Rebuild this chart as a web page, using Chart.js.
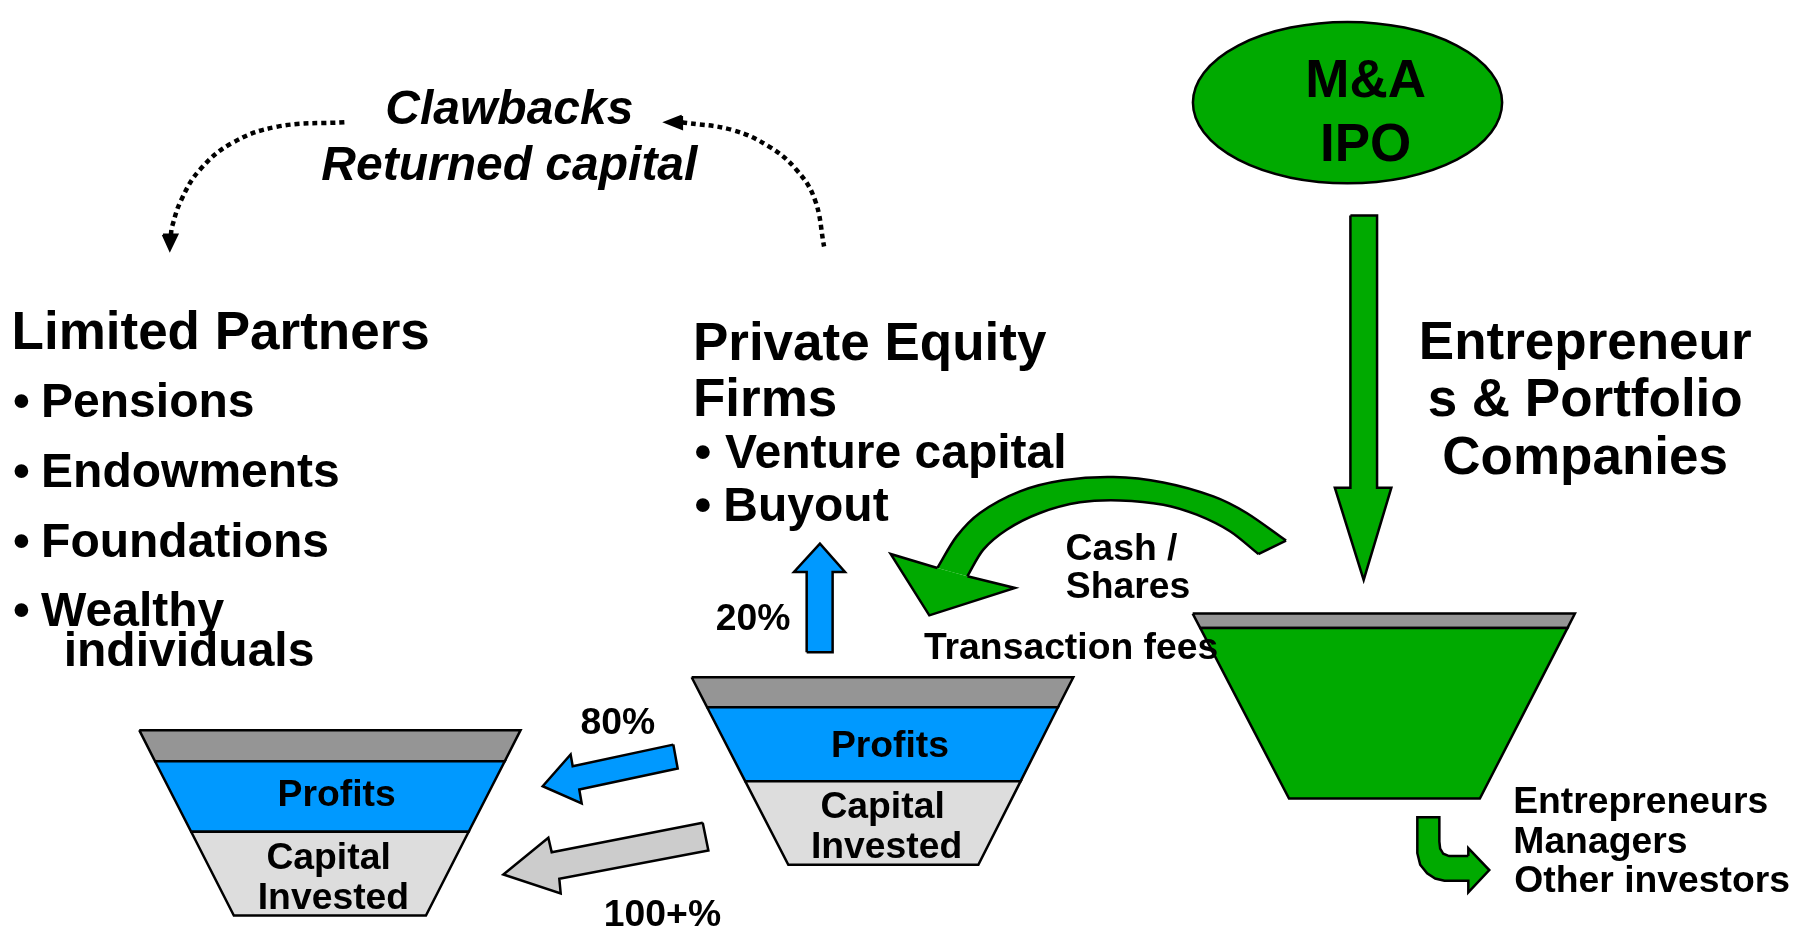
<!DOCTYPE html>
<html>
<head>
<meta charset="utf-8">
<script src="https://cdn.jsdelivr.net/npm/chart.js@4.4.1/dist/chart.umd.min.js"></script>
<style>
  html, body { margin: 0; padding: 0; background: #fff; overflow: hidden; }
  #wrap { width: 1809px; height: 927px; position: relative; }
</style>
</head>
<body>
<div id="wrap"><canvas id="flow"></canvas></div>
<script>
// drawing space: the reference read at 1568 x 804
const spaceW = 1568, spaceH = 804;

const green = '#00AA00', blue = '#0099FF', grey = '#959595', light = '#DDDDDD', arrowGrey = '#CCCCCC';

// funnels
const lfGrey = [[120.7,633.3],[451.2,633.3],[437.5,660.2],[134.4,660.2]];
const lfBlue = [[134.4,660.2],[437.5,660.2],[406.2,721.4],[165.7,721.4]];
const lfCap  = [[165.7,721.4],[406.2,721.4],[369.2,794],[202.7,794]];
const mfGrey = [[599.5,587.4],[930.3,587.4],[917,613.4],[612.9,613.4]];
const mfBlue = [[612.9,613.4],[917,613.4],[884.7,677.5],[645.9,677.5]];
const mfCap  = [[645.9,677.5],[884.7,677.5],[848,750],[683.3,750]];
const rfGrey  = [[1033.8,532.2],[1365.1,532.2],[1358.7,544.6],[1040.3,544.6]];
const rfGreen = [[1040.3,544.6],[1358.7,544.6],[1282.7,692.6],[1117.3,692.6]];

// straight arrows
const upArrow = [[699.2,565.7],[699.2,496],[688.2,496],[710.7,471.5],[732.4,496],[721.7,496],[721.7,565.7]];
const profitArrow = [[583.6,645.8],[496.4,664.5],[494.6,654.4],[470.4,681.9],[504.2,696.9],[502.1,684.8],[587.4,666.5]];
const capitalArrow = [[609.1,713.6],[478.2,739.1],[475.3,726.6],[436.3,758.4],[486,774.9],[484.8,762.2],[614,737.6]];
const exitArrow = [[1170.5,187],[1193.6,187],[1193.6,423],[1206,423],[1182,503],[1157,423],[1170.5,423]];
const payoutArrow = [[1272.7,742.5],[1256,742.5],[1251,740.5],[1248.3,736],[1247.6,730],[1247.6,708.9],[1228.5,708.9],
  [1228.5,740],[1231,750],[1237,757.5],[1244,762],[1252,763.8],[1272.7,763.8],[1272.7,774],[1290.9,754.6],[1272.7,735.5]];

// curved cash / shares arrow
const cashOuter = [[1114.7,468.9],[1080.6,444.9],[1051.7,430.5],[1008.3,418.4],[965,413.7],[921.7,416.6],[884.1,426.2],[849.4,444.9],[829.2,465.2],[812.5,492.6]];
const cashInner = [[1090.7,480.5],[1066.1,460.8],[1037.3,446.4],[1008.3,437.7],[970.8,434],[936.1,435.7],[901.4,444.9],[872.6,459.4],[852.3,476.7],[838.5,499.8]];
const cashHead = [[812.5,492.6],[772,480.5],[805.5,533.7],[879.8,510],[838.5,499.8]];
// band outline: outer edge, then inner edge back (end points doubled so the curve keeps its open-end shape)
const outerEnd = cashOuter[cashOuter.length - 1], innerEnd = cashInner[cashInner.length - 1];
const cashBand = cashOuter.concat([outerEnd, innerEnd], cashInner.slice().reverse());

// dotted clawback arcs
const clawLeft = [[298.5,106],[240.7,109.8],[200.9,124.2],[173.1,147.4],[157.1,173.4],[149.2,196.5],[148,205]];
const clawLeftHead = [[141.3,203.5],[153.5,203.5],[147.2,216.7]];
const clawRight = [[591,106],[634.7,112.7],[666.6,127.1],[690.5,147.4],[706.4,173.4],[714.3,213.8]];
const clawRightHead = [[591,100.5],[591,111.5],[577,106]];

// M&A / IPO bubble
const exitHub = { x: 1168, y: 89, rx: 134, ry: 70 };

// text
const big = 53, item = 48, small = 37.3;
const labels = [
  ['Clawbacks', 441.5, 107.5, 48, 'center', true],
  ['Returned capital', 441.5, 156, 48, 'center', true],
  ['M&A', 1183.7, 84.4, big, 'center'],
  ['IPO', 1183.7, 139.3, big, 'center'],
  ['Limited Partners', 10, 302.5, big],
  ['\u2022', 11.3, 361.7, item], ['Pensions', 35.6, 361.7, item],
  ['\u2022', 11.3, 422.4, item], ['Endowments', 35.6, 422.4, item],
  ['\u2022', 11.3, 483, item], ['Foundations', 35.6, 483, item],
  ['\u2022', 11.3, 543.2, item], ['Wealthy', 35.6, 543.2, item],
  ['individuals', 55.2, 577.8, item],
  ['Private Equity', 600.6, 312, big],
  ['Firms', 600.6, 361.2, big],
  ['\u2022', 602, 405.9, item], ['Venture capital', 628.5, 405.9, item],
  ['\u2022', 602, 452.2, item], ['Buyout', 627, 452.2, item],
  ['Entrepreneur', 1374, 311.5, big, 'center'],
  ['s & Portfolio', 1374, 361.2, big, 'center'],
  ['Companies', 1374, 411, big, 'center'],
  ['Cash /', 923.6, 485.4, small],
  ['Shares', 923.8, 518.6, small],
  ['Transaction fees', 800.8, 571.5, small],
  ['20%', 620.5, 546, small],
  ['80%', 535.6, 636.2, small, 'center'],
  ['100+%', 574.2, 803, small, 'center'],
  ['Profits', 771.4, 656.4, small, 'center'],
  ['Capital', 765, 709.3, small, 'center'],
  ['Invested', 768.5, 744, small, 'center'],
  ['Profits', 291.8, 699.2, small, 'center'],
  ['Capital', 284.8, 753.5, small, 'center'],
  ['Invested', 289, 788.8, small, 'center'],
  ['Entrepreneurs', 1311.6, 705, small],
  ['Managers', 1311.7, 739.7, small],
  ['Other investors', 1312.6, 773.5, small]
];

const sets = [];
const toXY = pts => pts.map(p => ({ x: p[0], y: p[1] }));
function shape(pts, color, close) {
  sets.push({
    data: toXY(close === false ? pts : pts.concat([pts[0]])),
    showLine: true, fill: 'shape', backgroundColor: color,
    borderColor: '#000', borderWidth: 2.5, borderJoinStyle: 'miter', tension: 0,
    pointRadius: 0, pointHoverRadius: 0
  });
}
function path(pts, opts) {
  sets.push(Object.assign({
    data: toXY(pts), showLine: true, fill: false,
    borderColor: '#000', borderWidth: 2.5, tension: 0,
    pointRadius: 0, pointHoverRadius: 0
  }, opts));
}

// paint order, back to front
path(clawLeft, { borderWidth: 4.5, borderDash: [5, 4], tension: 0.4 });
shape(clawLeftHead, '#000');
path(clawRight, { borderWidth: 4.5, borderDash: [5, 4], tension: 0.4 });
shape(clawRightHead, '#000');
shape(exitArrow, green);
path(cashBand, { fill: 'shape', backgroundColor: green, borderWidth: 0, tension: 0.3 });
path(cashOuter, { tension: 0.3 });
path(cashInner, { tension: 0.3 });
path([cashOuter[0], cashInner[0]]);
shape(cashHead, green, false);
shape(rfGrey, grey);
shape(rfGreen, green);
shape(mfGrey, grey);
shape(mfBlue, blue);
shape(mfCap, light);
shape(upArrow, blue);
shape(profitArrow, blue);
shape(capitalArrow, arrowGrey);
shape(lfGrey, grey);
shape(lfBlue, blue);
shape(lfCap, light);
shape(payoutArrow, green);
sets.forEach((s, i) => { s.order = sets.length - i; });

const hubPlugin = {
  id: 'hub',
  beforeDatasetsDraw(chart) {
    const { ctx, scales: { x, y } } = chart;
    const cx = x.getPixelForValue(exitHub.x), cy = y.getPixelForValue(exitHub.y);
    const rx = x.getPixelForValue(exitHub.x + exitHub.rx) - cx;
    const ry = y.getPixelForValue(exitHub.y + exitHub.ry) - cy;
    ctx.save();
    ctx.beginPath();
    ctx.ellipse(cx, cy, Math.abs(rx), Math.abs(ry), 0, 0, Math.PI * 2);
    ctx.fillStyle = green;
    ctx.fill();
    ctx.lineWidth = 2.5;
    ctx.strokeStyle = '#000';
    ctx.stroke();
    ctx.restore();
  }
};

const textPlugin = {
  id: 'labels',
  afterDatasetsDraw(chart) {
    const { ctx, scales: { x, y } } = chart;
    ctx.save();
    ctx.fillStyle = '#000';
    ctx.textBaseline = 'alphabetic';
    labels.forEach(([text, lx, ly, size, align, italic]) => {
      ctx.font = (italic ? 'italic ' : '') + 'bold ' + size + 'px "Liberation Sans", Arial, sans-serif';
      ctx.textAlign = align || 'left';
      ctx.fillText(text, x.getPixelForValue(lx), y.getPixelForValue(ly));
    });
    ctx.restore();
  }
};

new Chart(document.getElementById('flow'), {
  type: 'scatter',
  data: { datasets: sets },
  options: {
    responsive: true,
    maintainAspectRatio: false,
    animation: false,
    events: [],
    layout: { padding: 0 },
    scales: {
      x: { type: 'linear', min: 0, max: spaceW, display: false },
      y: { type: 'linear', min: 0, max: spaceH, reverse: true, display: false }
    },
    plugins: { legend: { display: false }, tooltip: { enabled: false } }
  },
  plugins: [hubPlugin, textPlugin]
});
</script>
</body>
</html>
